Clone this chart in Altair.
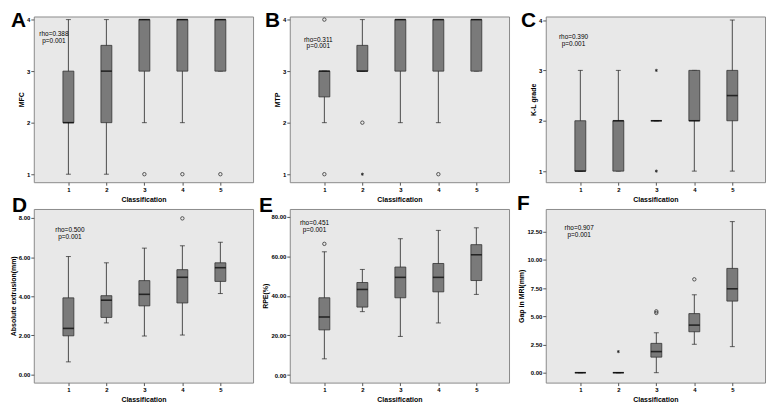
import altair as alt
import pandas as pd

FONT = "Liberation Sans"
CLASSES = [1, 2, 3, 4, 5]

# ---------------- Panel A: MFC ----------------
A_q1 = [2, 2, 3, 3, 3]
A_med = [2, 3, 4, 4, 4]
A_q3 = [3, 3.5, 4, 4, 4]
A_lo = [1, 1, 2, 2, 3]
A_hi = [4, 4, 4, 4, 4]
A_circ_x = [3, 4, 5]
A_circ_y = [1, 1, 1]
A_star_x = []
A_star_y = []
A_ann = ["rho=0.388", "p=0.001"]

# ---------------- Panel B: MTP ----------------
B_q1 = [2.5, 3, 3, 3, 3]
B_med = [3, 3, 4, 4, 4]
B_q3 = [3, 3.5, 4, 4, 4]
B_lo = [2, 3, 2, 2, 3]
B_hi = [3, 4, 4, 4, 4]
B_circ_x = [1, 1, 2, 4]
B_circ_y = [4, 1, 2, 1]
B_star_x = [2]
B_star_y = [1]
B_ann = ["rho=0.311", "p=0.001"]

# ---------------- Panel C: K-L grade ----------------
C_q1 = [1, 1, 2, 2, 2]
C_med = [1, 2, 2, 2, 2.5]
C_q3 = [2, 2, 2, 3, 3]
C_lo = [1, 1, 2, 1, 1]
C_hi = [3, 3, 2, 3, 4]
C_circ_x = []
C_circ_y = []
C_star_x = [3, 3]
C_star_y = [3, 1]
C_ann = ["rho=0.390", "p=0.001"]

# ---------------- Panel D: Absolute extrusion(mm) ----------------
D_q1 = [1.98, 2.92, 3.51, 3.66, 4.76]
D_med = [2.36, 3.80, 4.10, 4.97, 5.46]
D_q3 = [3.92, 4.03, 4.80, 5.36, 5.71]
D_lo = [0.65, 2.64, 1.97, 2.02, 4.14]
D_hi = [6.03, 5.71, 6.46, 6.58, 6.76]
D_circ_x = [4]
D_circ_y = [7.98]
D_star_x = []
D_star_y = []
D_ann = ["rho=0.500", "p=0.001"]

# ---------------- Panel E: RPE(%) ----------------
E_q1 = [22.8, 34.3, 39.0, 42.0, 47.7]
E_med = [29.3, 43.2, 49.3, 49.3, 60.7]
E_q3 = [39.0, 46.7, 54.5, 56.3, 65.8]
E_lo = [8.2, 32.0, 19.5, 26.3, 40.7]
E_hi = [62.2, 53.3, 68.8, 73.0, 74.3]
E_circ_x = [1]
E_circ_y = [66.2]
E_star_x = []
E_star_y = []
E_ann = ["rho=0.451", "p=0.001"]

# ---------------- Panel F: Gap in MRI(mm) ----------------
F_q1 = [0, 0, 1.38, 3.63, 6.35]
F_med = [0, 0, 1.87, 4.22, 7.44]
F_q3 = [0, 0, 2.60, 5.24, 9.25]
F_lo = [0, 0, 0, 2.52, 2.31]
F_hi = [0, 0, 3.54, 6.91, 13.4]
F_circ_x = [3, 3, 4]
F_circ_y = [5.44, 5.30, 8.28]
F_star_x = [2]
F_star_y = [1.87]
F_ann = ["rho=0.907", "p=0.001"]

BOX_FILL = "#7a7a7a"
EDGE = "#333333"
WHISK = "#4a4a4a"
STAR = "M0,-1L0,1M-0.87,-0.5L0.87,0.5M-0.87,0.5L0.87,-0.5"
XDOM = [0.22, 5.73]
W = 221


def panel(letter, ytitle, q1, med, q3, lo, hi, cx, cy, sx, sy, ann, ann_x, ann_y,
          ydom, yticks, yfmt, H, let_x, let_y):
    box = pd.DataFrame({"pos": CLASSES, "q1": q1, "med": med, "q3": q3, "lo": lo, "hi": hi})
    xs = alt.Scale(domain=XDOM, nice=False, zero=False)
    ys = alt.Scale(domain=ydom, nice=False, zero=False)
    xaxis = alt.Axis(values=CLASSES, format="d", title="Classification", titlePadding=3)
    yaxis = alt.Axis(values=yticks, format=yfmt, title=ytitle, titlePadding=2)
    x = alt.X("pos:Q", scale=xs, axis=xaxis)

    def y(f):
        return alt.Y(f + ":Q", scale=ys, axis=yaxis)

    base = alt.Chart(box)
    layers = [
        base.mark_rule(color=WHISK, strokeWidth=1).encode(x=x, y=y("lo"), y2="hi:Q"),
        base.mark_tick(orient="horizontal", size=5, thickness=1, color="#222222").encode(x=x, y=y("lo")),
        base.mark_tick(orient="horizontal", size=5, thickness=1, color="#222222").encode(x=x, y=y("hi")),
        base.mark_bar(size=11, fill=BOX_FILL, stroke=EDGE, strokeWidth=0.8).encode(x=x, y=y("q1"), y2="q3:Q"),
        base.mark_tick(orient="horizontal", size=11, thickness=1.6, color="black").encode(x=x, y=y("med")),
    ]
    if cx:
        layers.append(
            alt.Chart(pd.DataFrame({"pos": cx, "v": cy}))
            .mark_point(shape="circle", size=12, filled=False, stroke="#333333", strokeWidth=0.8, opacity=1)
            .encode(x=x, y=y("v"))
        )
    if sx:
        layers.append(
            alt.Chart(pd.DataFrame({"pos": sx, "v": sy}))
            .mark_point(shape=STAR, size=10, filled=False, stroke="#222222", strokeWidth=0.8, opacity=1)
            .encode(x=x, y=y("v"))
        )
    layers.append(
        alt.Chart(pd.DataFrame({"pos": [ann_x, ann_x], "v": ann_y, "t": ann}))
        .mark_text(font=FONT, fontSize=6.5, color="black", baseline="middle")
        .encode(x=x, y=y("v"), text="t:N")
    )
    layers.append(
        alt.Chart(pd.DataFrame({"t": [letter]}))
        .mark_text(font=FONT, fontSize=21, fontWeight="bold", color="black", align="left", baseline="alphabetic")
        .encode(x=alt.value(let_x), y=alt.value(let_y), text="t:N")
    )
    return alt.layer(*layers).properties(width=W, height=H)


pA = panel("A", "MFC", A_q1, A_med, A_q3, A_lo, A_hi, A_circ_x, A_circ_y, A_star_x, A_star_y,
           A_ann, 0.62, [3.72, 3.59], [0.845, 4.06], [1, 2, 3, 4], "d", 167, -23, 11)
pB = panel("B", "MTP", B_q1, B_med, B_q3, B_lo, B_hi, B_circ_x, B_circ_y, B_star_x, B_star_y,
           B_ann, 0.84, [3.61, 3.48], [0.845, 4.06], [1, 2, 3, 4], "d", 167, -25, 11)
pC = panel("C", "K-L grade", C_q1, C_med, C_q3, C_lo, C_hi, C_circ_x, C_circ_y, C_star_x, C_star_y,
           C_ann, 0.82, [3.66, 3.53], [0.78, 4.07], [1, 2, 3, 4], "d", 167, -25, 11)
pD = panel("D", "Absolute extrusion(mm)", D_q1, D_med, D_q3, D_lo, D_hi, D_circ_x, D_circ_y, D_star_x, D_star_y,
           D_ann, 1.04, [7.37, 7.04], [-0.41, 8.46], [0, 2, 4, 6, 8], ".2f", 175, -22, 3)
pE = panel("E", "RPE(%)", E_q1, E_med, E_q3, E_lo, E_hi, E_circ_x, E_circ_y, E_star_x, E_star_y,
           E_ann, 0.74, [76.6, 73.3], [-3.8, 83.8], [0, 20, 40, 60, 80], ".2f", 175, -31, 3)
pF = panel("F", "Gap in MRI(mm)", F_q1, F_med, F_q3, F_lo, F_hi, F_circ_x, F_circ_y, F_star_x, F_star_y,
           F_ann, 0.97, [12.82, 12.25], [-0.88, 14.52], [0, 2.5, 5, 7.5, 10, 12.5], ".2f", 175, -29, 1)

chart = (
    alt.concat(pA, pB, pC, pD, pE, pF, columns=3, spacing={"row": 27, "column": 37}, bounds="flush")
    .properties(padding={"left": 0, "top": 0, "right": 0, "bottom": 0}, background="white")
    .configure_view(fill="#e8e8e8", stroke="#8a8a8a", strokeWidth=1)
    .configure_axis(
        labelFont=FONT, labelFontSize=6, labelFontWeight="bold", labelColor="black",
        titleFont=FONT, titleFontSize=7, titleFontWeight="bold", titleColor="black",
        tickColor="#555555", tickSize=3, labelPadding=1, domain=False, grid=False,
    )
)

chart.save("out.html", embed_options={"renderer": "svg", "actions": False})
